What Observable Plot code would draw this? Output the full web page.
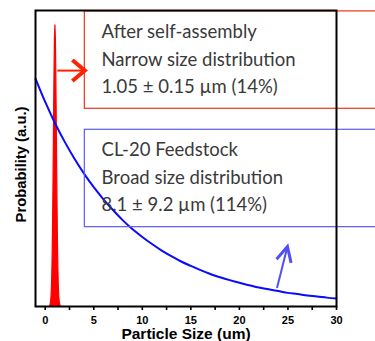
<!DOCTYPE html>
<html><head><meta charset="utf-8">
<script src="https://cdn.jsdelivr.net/npm/d3@7"></script>
<script src="https://cdn.jsdelivr.net/npm/@observablehq/plot@0.6"></script>
<style>html,body{margin:0;padding:0;background:#fff;overflow:hidden}</style>
</head><body><div id="chart"></div>
<script>
// Broad feedstock distribution (blue curve)
const feedX = [-1,0,1,2,3,4,5,6,7,8,9,10,11,12,13,14,15,16,17,18,19,20,21,22,23,24,25,26,27,28,29,30];
const feedY = [0.770,0.691,0.620,0.557,0.500,0.449,0.403,0.362,0.325,0.291,0.261,0.235,0.211,0.189,0.170,0.152,0.137,0.123,0.110,0.099,0.089,0.080,0.072,0.064,0.058,0.052,0.046,0.042,0.037,0.034,0.030,0.027];
// Narrow self-assembled distribution (red peak)
const peakX = [0.50,0.55,0.60,0.65,0.70,0.75,0.80,0.85,0.90,0.95,1.00,1.05,1.10,1.15,1.20,1.25,1.30,1.35,1.40,1.45,1.50,1.55,1.60];
const peakY = [0.000,0.006,0.014,0.032,0.070,0.140,0.250,0.400,0.580,0.765,0.900,0.950,0.900,0.765,0.580,0.400,0.250,0.140,0.070,0.032,0.014,0.006,0.000];
// Axis ticks
const xTicks = [0,2.5,5,7.5,10,12.5,15,17.5,20,22.5,25,27.5,30];
const xLabelTicks = [0,5,10,15,20,25,30];
// Annotation texts
const boxTexts = [
  "After self-assembly\nNarrow size distribution\n1.05 \u00b1 0.15 \u00b5m (14%)",
  "CL-20 Feedstock\nBroad size distribution\n8.1 \u00b1 9.2 \u00b5m (114%)"
];
const boxColors = ["#f0301e", "#5a5af5"];
// Annotation anchors in data units
const boxX1 = [4.08, 4.08], boxX2 = [36, 36];
const boxYTop = [0.997, 0.597], boxYBottom = [0.668, 0.268];
const textX = [5.80, 5.80], textY = [0.7206, 0.322];
const redArrow = {x1: 1.235, x2: 4.08, y: 0.797};
const blueArrow = {x1: 23.87, y1: 0.0625, x2: 24.95, y2: 0.2027};

const feed = feedX.map((x, i) => ({x, y: feedY[i]}));
const peak = peakX.map((x, i) => ({x, y: peakY[i]}));
const boxes = boxTexts.map((t, i) => ({t, c: boxColors[i], x1: boxX1[i], x2: boxX2[i], y1: boxYBottom[i], y2: boxYTop[i], tx: textX[i], ty: textY[i]}));

function chevron(side, back) {
  return {draw(ctx, l) {
    ctx.moveTo(-side, -l + back);
    ctx.lineTo(0, -l);
    ctx.lineTo(side, -l + back);
  }};
}

const textFont = "Lato, 'Open Sans', sans-serif";
const axisFont = "'Liberation Sans', Arial, sans-serif";

const chart = Plot.plot({
  width: 375,
  height: 341,
  marginLeft: 35,
  marginRight: 39,
  marginTop: 10,
  marginBottom: 35,
  style: {fontFamily: axisFont, background: "#fff"},
  x: {domain: [-1, 30]},
  y: {domain: [0, 1], axis: null},
  marks: [
    Plot.areaY(peak, {x: "x", y: "y", fill: "#ff0000", stroke: "#ff0000", strokeWidth: 1.2, curve: "linear"}),
    Plot.line(feed, {x: "x", y: "y", stroke: "#0a0aff", strokeWidth: 2, curve: "catmull-rom"}),
    Plot.rect(boxes, {x1: "x1", x2: "x2", y1: "y1", y2: "y2", fill: "none", stroke: "c", strokeWidth: 1.2}),
    Plot.text(boxes, {x: "tx", y: "ty", text: "t", textAnchor: "start", lineAnchor: "bottom", lineHeight: 1.49, fontSize: 18.5, fontFamily: textFont, fill: "#3a3a3a"}),
    Plot.link([redArrow], {x1: "x1", x2: "x2", y1: "y", y2: "y", stroke: "#ff2200", strokeWidth: 2}),
    Plot.vector([redArrow], {x: "x2", y: "y", rotate: 90, length: 14, anchor: "end", shape: chevron(10.5, 12.5), stroke: "#ff2200", strokeWidth: 4, strokeLinejoin: "miter", strokeLinecap: "butt"}),
    Plot.link([blueArrow], {x1: "x1", y1: "y1", x2: "x2", y2: "y2", stroke: "#5050f5", strokeWidth: 2}),
    Plot.vector([blueArrow], {x: "x2", y: "y2", rotate: 14.2, length: 18, anchor: "end", shape: chevron(7.5, 15), stroke: "#5050f5", strokeWidth: 3, strokeLinejoin: "miter", strokeLinecap: "butt"}),
    Plot.frame({stroke: "#000", strokeWidth: 2}),
    Plot.axisX({ticks: xTicks, tickSize: 4, tickPadding: 6, strokeWidth: 1.6, label: null, tickFormat: d => xLabelTicks.includes(d) ? String(d) : "", fontSize: 11, fontWeight: "bold", fill: "#000"}),
    Plot.text(["Particle Size (um)"], {frameAnchor: "bottom", textAnchor: "middle", dy: 32.5, lineAnchor: "bottom", fontSize: 15.5, fontWeight: "bold", fontFamily: axisFont, fill: "#000"}),
    Plot.text(["Probability (a.u.)"], {frameAnchor: "left", textAnchor: "middle", dx: -10, dy: 6, rotate: -90, lineAnchor: "bottom", fontSize: 14.8, fontWeight: "bold", fontFamily: axisFont, fill: "#000"})
  ]
});
document.getElementById("chart").appendChild(chart);
</script>
</body></html>
